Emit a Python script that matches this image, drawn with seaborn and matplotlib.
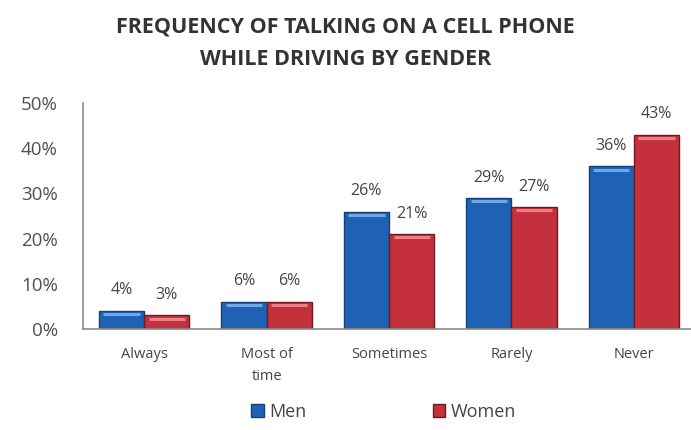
import matplotlib
matplotlib.use("Agg")
import matplotlib.pyplot as plt
import seaborn as sns
import pandas as pd
from matplotlib.ticker import PercentFormatter
from matplotlib.patches import Patch

categories = ["Always", "Most of\ntime", "Sometimes", "Rarely", "Never"]
men = [4, 6, 26, 29, 36]
women = [3, 6, 21, 27, 43]
genders = ["Men", "Women"]
colors = ["#1f62b5", "#c4303b"]
edges = ["#173f73", "#6e1a22"]
shines = ["#6fa6e6", "#ec7f88"]

df = pd.DataFrame({
    "category": categories * 2,
    "gender": ["Men"] * len(men) + ["Women"] * len(women),
    "value": men + women,
})

sns.set_style("white")
plt.rcParams["font.family"] = ["Open Sans", "DejaVu Sans"]

fig = plt.figure(figsize=(6.91, 4.30), dpi=100)
ax = fig.add_axes([0.120, 0.235, 0.886, 0.525])

sns.barplot(data=df, x="category", y="value", hue="gender", order=categories,
            hue_order=genders, palette=colors, width=0.74, saturation=1,
            legend=False, ax=ax)

for container, ec, sc in zip(ax.containers, edges, shines):
    for bar in container:
        bar.set_edgecolor(ec)
        bar.set_linewidth(1.0)
        x0, w, h = bar.get_x(), bar.get_width(), bar.get_height()
        # light highlight strip just under the top edge
        ax.hlines(h - 0.7, x0 + w * 0.1, x0 + w * 0.9, color=sc, lw=2.2)
    ax.bar_label(container, labels=[f"{int(v)}%" for v in container.datavalues],
                 padding=9, fontsize=11.5, color="#444444")

ax.set_ylim(0, 50)
ax.set_xlim(-0.5, 4.5)
ax.set_yticks(range(0, 51, 10))
ax.yaxis.set_major_formatter(PercentFormatter(decimals=0))
ax.set_xlabel("")
ax.set_ylabel("")
ax.tick_params(axis="y", length=0, labelsize=13.5, labelcolor="#505050", pad=18)
ax.tick_params(axis="x", length=0, labelsize=10.5, labelcolor="#444444", pad=13)
for lbl in ax.get_xticklabels():
    lbl.set_linespacing(1.6)
ax.set_xticks([0.5, 1.5, 2.5, 3.5], minor=True)
ax.tick_params(axis="x", which="minor", length=4, color="#888888", direction="out")

sns.despine(ax=ax)
for side in ("left", "bottom"):
    ax.spines[side].set_color("#8c8c8c")
    ax.spines[side].set_linewidth(1.2)

fig.text(0.50, 0.900, "FREQUENCY OF TALKING ON A CELL PHONE\nWHILE DRIVING BY GENDER",
         ha="center", va="center", fontsize=15.5, fontweight="bold",
         color="#333333", linespacing=1.7)

handles = [Patch(facecolor=c, edgecolor=e) for c, e in zip(colors, edges)]
fig.legend(handles, genders, loc="center", bbox_to_anchor=(0.555, 0.042), ncol=2,
           frameon=False, fontsize=13, handlelength=0.7, handleheight=0.7,
           handletextpad=0.3, columnspacing=7.0, labelcolor="#444444")

fig.savefig("out.png", dpi=100)
